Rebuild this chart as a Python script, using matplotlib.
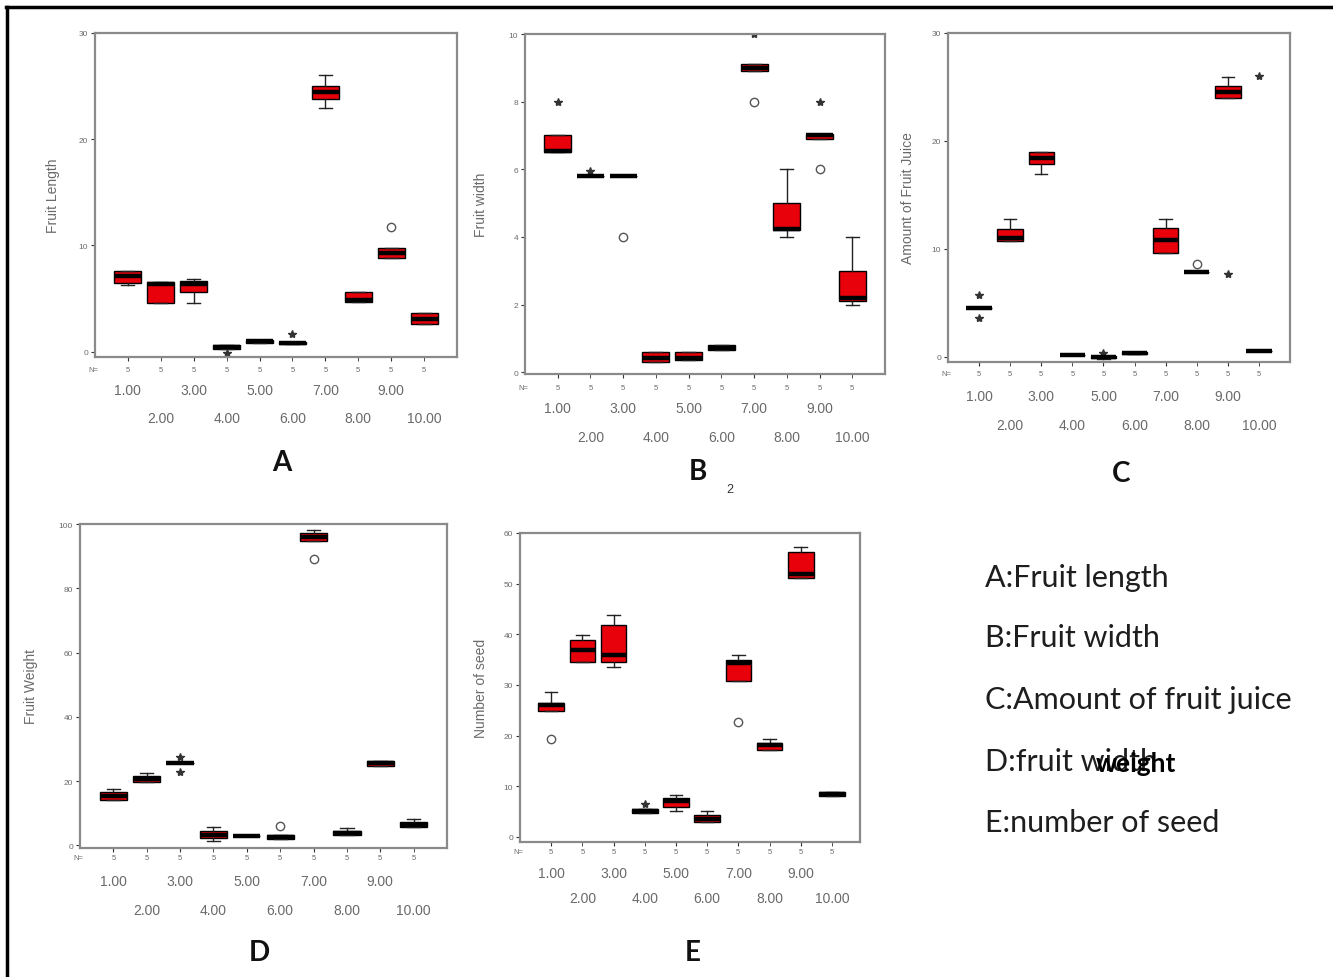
import matplotlib
matplotlib.use("Agg")
import matplotlib.pyplot as plt
from matplotlib.lines import Line2D
from matplotlib.transforms import blended_transform_factory

W, H = 1333, 978
plt.rcParams['font.family'] = ['Liberation Sans', 'DejaVu Sans']

groups = [1, 2, 3, 4, 5, 6, 7, 8, 9, 10]
group_labels = ['1.00', '2.00', '3.00', '4.00', '5.00', '6.00', '7.00', '8.00', '9.00', '10.00']
n_counts = [5, 5, 5, 5, 5, 5, 5, 5, 5, 5]

# A: fruit length
A_q1 = [6.5, 4.6, 5.6, 0.3, 0.85, 0.7, 23.8, 4.7, 8.8, 2.6]
A_med = [7.1, 6.4, 6.35, 0.45, 1.0, 0.8, 24.4, 4.9, 9.3, 3.1]
A_q3 = [7.6, 6.6, 6.7, 0.6, 1.1, 0.9, 25.0, 5.6, 9.8, 3.6]
A_lo = [6.3, 4.6, 4.6, 0.3, 0.85, 0.7, 22.9, 4.7, 8.8, 2.6]
A_hi = [7.6, 6.6, 6.8, 0.6, 1.1, 0.9, 26.0, 5.6, 9.8, 3.6]
A_circ_x, A_circ_y = [9], [11.7]
A_star_x, A_star_y = [6, 4], [1.7, -0.1]

# B: fruit width
B_q1 = [6.5, 5.8, 5.8, 0.3, 0.35, 0.65, 8.9, 4.2, 6.9, 2.1]
B_med = [6.55, 5.8, 5.8, 0.42, 0.42, 0.72, 9.0, 4.25, 7.0, 2.2]
B_q3 = [7.0, 5.8, 5.8, 0.6, 0.6, 0.8, 9.1, 5.0, 7.05, 3.0]
B_lo = [6.5, 5.8, 5.8, 0.3, 0.35, 0.65, 8.9, 4.0, 6.9, 2.0]
B_hi = [7.0, 5.8, 5.8, 0.6, 0.6, 0.8, 9.1, 6.0, 7.05, 4.0]
B_circ_x, B_circ_y = [3, 7, 9], [4.0, 8.0, 6.0]
B_star_x, B_star_y = [1, 2, 9, 7], [8.0, 5.95, 8.0, 10.0]

# C: amount of fruit juice
C_q1 = [4.5, 10.7, 17.9, 0.15, -0.15, 0.25, 9.6, 7.8, 24.0, 0.55]
C_med = [4.5, 11.0, 18.45, 0.15, -0.05, 0.3, 10.85, 7.8, 24.5, 0.55]
C_q3 = [4.5, 11.8, 19.0, 0.15, 0.05, 0.4, 11.9, 7.8, 25.1, 0.55]
C_lo = [4.5, 10.7, 16.9, 0.15, -0.2, 0.25, 9.6, 7.8, 24.0, 0.55]
C_hi = [4.5, 12.8, 19.0, 0.15, 0.1, 0.4, 12.8, 7.8, 25.95, 0.55]
C_circ_x, C_circ_y = [8], [8.6]
C_star_x, C_star_y = [1, 1, 9, 10, 5], [5.7, 3.6, 7.7, 26.0, 0.3]

# D: fruit weight
D_q1 = [14.0, 19.6, 25.6, 2.3, 2.8, 2.0, 94.8, 3.2, 24.8, 5.8]
D_med = [15.3, 20.6, 25.6, 3.3, 2.8, 2.5, 96.0, 3.8, 25.5, 6.5]
D_q3 = [16.6, 21.6, 25.6, 4.6, 2.8, 3.1, 97.2, 4.5, 26.2, 7.4]
D_lo = [14.0, 19.6, 25.6, 1.3, 2.8, 2.0, 94.8, 3.2, 24.8, 5.8]
D_hi = [17.6, 22.5, 25.6, 5.7, 2.8, 3.1, 98.2, 5.5, 26.2, 8.1]
D_circ_x, D_circ_y = [6, 7], [6.2, 89.0]
D_star_x, D_star_y = [3, 3], [27.5, 22.8]

# E: number of seed
E_q1 = [24.8, 34.6, 34.6, 4.7, 6.0, 2.9, 30.7, 17.2, 51.2, 8.0]
E_med = [26.0, 36.9, 36.0, 5.1, 7.0, 3.6, 34.4, 18.1, 52.0, 8.5]
E_q3 = [26.5, 38.8, 41.9, 5.5, 7.6, 4.3, 34.9, 18.6, 56.2, 8.9]
E_lo = [24.8, 34.6, 33.5, 4.7, 5.1, 2.9, 30.7, 17.2, 51.2, 8.0]
E_hi = [28.6, 39.8, 43.8, 5.5, 8.3, 5.1, 35.9, 19.4, 57.2, 8.9]
E_circ_x, E_circ_y = [1, 7], [19.4, 22.6]
E_star_x, E_star_y = [4], [6.6]

legend_lines = ['A:Fruit length', 'B:Fruit width', 'C:Amount of fruit juice',
                'D:fruit width', 'E:number of seed']

fig = plt.figure(figsize=(W / 100, H / 100), dpi=100)
GRAY = '#6a6a6a'


def panel(rect, q1, med, q3, lo, hi, cx, cy, sx, sy, ylim, yticks, ylabel,
          rows, ylabel_x, letter, letter_xy, xmax=11):
    x0, y0, x1, y1 = rect
    ax = fig.add_axes([x0 / W, 1 - y1 / H, (x1 - x0) / W, (y1 - y0) / H])
    stats = [dict(med=m, q1=a, q3=b, whislo=l, whishi=h, fliers=[])
             for a, m, b, l, h in zip(q1, med, q3, lo, hi)]
    ax.bxp(stats, positions=groups, widths=0.82, capwidths=0.4,
           patch_artist=True, showfliers=False,
           boxprops=dict(facecolor='#e8000b', edgecolor='black', linewidth=1),
           medianprops=dict(color='black', linewidth=3.2, solid_capstyle='butt'),
           whiskerprops=dict(color='#222222', linewidth=1),
           capprops=dict(color='#222222', linewidth=1))
    ax.plot(cx, cy, 'o', mfc='none', mec='#555555', ms=6, mew=1)
    ax.plot(sx, sy, '*', color='#333333', ms=6)
    ax.set_xlim(0, xmax)
    ax.set_ylim(*ylim)
    ax.set_yticks(yticks)
    ax.set_yticklabels([str(t) for t in yticks])
    for s in ax.spines.values():
        s.set_color('#8a8a8a')
        s.set_linewidth(1.6)
    ax.tick_params(axis='y', length=3, color='#333333', labelsize=6,
                   labelcolor=GRAY, pad=2)
    # two-row category labels
    n_off, odd_off, even_off = rows
    ax.set_xticks(groups[0::2])
    ax.set_xticklabels(group_labels[0::2])
    ax.set_xticks(groups[1::2], minor=True)
    ax.set_xticklabels(group_labels[1::2], minor=True)
    ax.tick_params(axis='x', which='major', length=3, color='#333333',
                   labelsize=10, labelcolor=GRAY,
                   pad=(odd_off - 7.5) / 1.389 - 3)
    ax.tick_params(axis='x', which='minor', length=3, color='#333333',
                   labelsize=10, labelcolor=GRAY,
                   pad=(even_off - 7.5) / 1.389 - 3)
    trans = blended_transform_factory(ax.transData, ax.transAxes)
    yn = -n_off / (y1 - y0)
    ax.text(-0.05, yn, 'N=', transform=trans, fontsize=5.5, color=GRAY,
            ha='center', va='center')
    for g, n in zip(groups, n_counts):
        ax.text(g, yn, str(n), transform=trans, fontsize=5.5, color=GRAY,
                ha='center', va='center')
    ax.set_ylabel(ylabel, fontsize=10, color=GRAY)
    ax.yaxis.set_label_coords((ylabel_x - x0) / (x1 - x0), 0.5)
    fig.text(letter_xy[0] / W, 1 - letter_xy[1] / H, letter, fontsize=20,
             fontweight='bold', family=['Lato', 'DejaVu Sans'],
             ha='center', va='center', color='#111111')
    return ax


panel((95, 34, 457, 358), A_q1, A_med, A_q3, A_lo, A_hi, A_circ_x, A_circ_y,
      A_star_x, A_star_y, (-0.5, 30), [0, 10, 20, 30], 'Fruit Length',
      (12, 34, 62), 60, 'A', (282, 463))
panel((525, 35, 885, 375), B_q1, B_med, B_q3, B_lo, B_hi, B_circ_x, B_circ_y,
      B_star_x, B_star_y, (-0.05, 10), [0, 2, 4, 6, 8, 10], 'Fruit width',
      (13, 35, 64), 488, 'B', (698, 472))
panel((948, 34, 1290, 363), C_q1, C_med, C_q3, C_lo, C_hi, C_circ_x, C_circ_y,
      C_star_x, C_star_y, (-0.5, 30), [0, 10, 20, 30], 'Amount of Fruit Juice',
      (12, 35, 64), 915, 'C', (1121, 474))
panel((80, 525, 447, 849), D_q1, D_med, D_q3, D_lo, D_hi, D_circ_x, D_circ_y,
      D_star_x, D_star_y, (-0.8, 100), [0, 20, 40, 60, 80, 100], 'Fruit Weight',
      (10, 34, 63), 38, 'D', (259, 953))
panel((520, 534, 860, 843), E_q1, E_med, E_q3, E_lo, E_hi, E_circ_x, E_circ_y,
      E_star_x, E_star_y, (-1, 60), [0, 10, 20, 30, 40, 50, 60], 'Number of seed',
      (10, 32, 57), 488, 'E', (693, 953), xmax=10.9)

fig.text(730 / W, 1 - 490 / H, '2', fontsize=9, color='#333333', ha='center', va='center')

# legend text on the right
for i, line in enumerate(legend_lines):
    y = [578, 638, 700, 762, 823][i]
    fig.text(985 / W, 1 - y / H, line, fontsize=22, family=['Lato', 'DejaVu Sans'],
             color='#1e1e1e', va='center', ha='left')
# the reference pastes a bold "weight" over "width"
fig.text(1096 / W, 1 - 764 / H, 'weight', fontsize=19, fontweight='bold',
         family=['Lato', 'DejaVu Sans'], color='black', va='center', ha='left')

# frame lines (top and left only)
fig.add_artist(Line2D([6 / W, 1], [1 - 8 / H, 1 - 8 / H], color='black', lw=2.5))
fig.add_artist(Line2D([7 / W, 7 / W], [0, 1 - 8 / H], color='black', lw=2.5))

fig.savefig('out.png', dpi=100, facecolor='white')
